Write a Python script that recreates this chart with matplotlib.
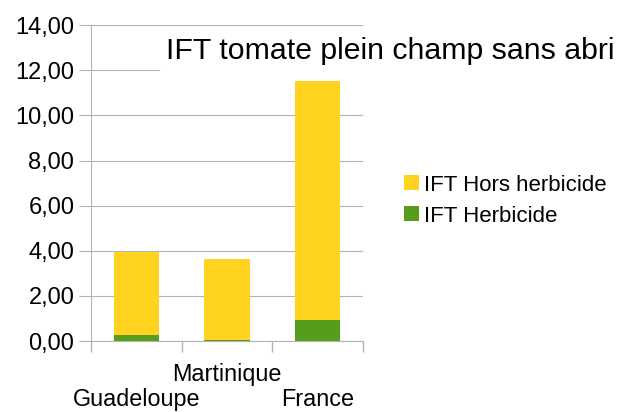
import numpy as np
import matplotlib.pyplot as plt

plt.rcParams['font.family'] = ['Liberation Sans', 'DejaVu Sans']

# IFT values
regions = ['Guadeloupe', 'Martinique', 'France']
ift_herbicide = [0.28, 0.03, 0.93]
ift_hors_herbicide = [3.66, 3.60, 10.59]

yellow = '#FFD320'
green = '#579D1C'
grid_col = '#B3B3B3'

fig = plt.figure(figsize=(6.25, 4.12), dpi=100)
ax = fig.add_axes([0.1456, 0.172, 0.435, 0.767])

x = np.arange(len(regions))
ax.bar(x, ift_herbicide, width=0.5, color=green, label='IFT Herbicide', zorder=3)
ax.bar(x, ift_hors_herbicide, width=0.5, bottom=ift_herbicide, color=yellow,
       label='IFT Hors herbicide', zorder=3)

ax.set_xlim(-0.5, 2.5)
ax.set_ylim(0, 14)
ax.set_yticks(np.arange(0, 15, 2))
ax.set_yticklabels([f'{v:.2f}'.replace('.', ',') for v in np.arange(0, 15, 2)], fontsize=17)
ax.yaxis.grid(True, color=grid_col, linewidth=0.8, zorder=0)
ax.tick_params(axis='y', length=9, color=grid_col, width=0.8, pad=3)

# category ticks at boundaries, labels staggered
ax.set_xticks([-0.5, 0.5, 1.5, 2.5])
ax.set_xticklabels([])
ax.tick_params(axis='x', length=8, color=grid_col, width=1)
label_y = [-0.205, -0.125, -0.205]
for i, name in enumerate(regions):
    ax.text(i, label_y[i], name, transform=ax.get_xaxis_transform(), ha='center',
            va='baseline', fontsize=16.8)

for s in ['top', 'right']:
    ax.spines[s].set_visible(False)
ax.spines['left'].set_color(grid_col)
ax.spines['bottom'].set_color(grid_col)

fig.text(0.624, 0.876, 'IFT tomate plein champ sans abri', ha='center', va='center',
         fontsize=21.8, backgroundcolor='white')

handles, labels = ax.get_legend_handles_labels()
fig.legend(handles[::-1], labels[::-1], loc='center left', bbox_to_anchor=(0.615, 0.513),
           frameon=False, fontsize=16, handlelength=0.65, handleheight=0.65,
           handletextpad=0.25, labelspacing=0.45)

fig.savefig('out.png', dpi=100)
